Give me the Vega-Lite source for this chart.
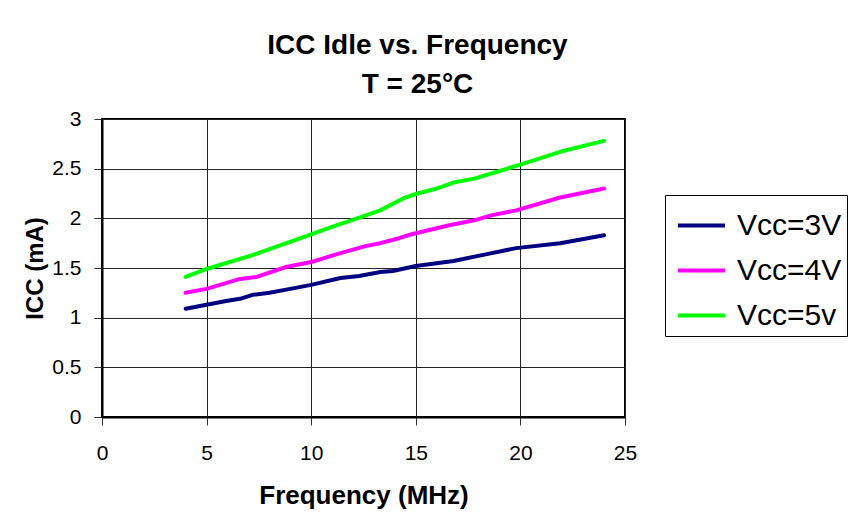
{
  "$schema": "https://vega.github.io/schema/vega-lite/v6.json",
  "width": 523,
  "height": 298,
  "autosize": {"type": "none"},
  "padding": {"left": 102, "top": 119, "right": 231, "bottom": 106},
  "background": "white",
  "title": {
    "text": ["ICC Idle vs. Frequency", "T = 25°C"],
    "font": "Liberation Sans",
    "fontSize": 28,
    "fontWeight": "bold",
    "color": "black",
    "anchor": "middle",
    "frame": "group",
    "dx": 54,
    "lineHeight": 39,
    "offset": 9
  },
  "data": {
    "values": [
      {"f": 4, "icc": 1.09, "s": "Vcc=3V"},
      {"f": 5, "icc": 1.13, "s": "Vcc=3V"},
      {"f": 6, "icc": 1.17, "s": "Vcc=3V"},
      {"f": 6.6, "icc": 1.19, "s": "Vcc=3V"},
      {"f": 7.2, "icc": 1.23, "s": "Vcc=3V"},
      {"f": 8, "icc": 1.25, "s": "Vcc=3V"},
      {"f": 9, "icc": 1.29, "s": "Vcc=3V"},
      {"f": 10, "icc": 1.33, "s": "Vcc=3V"},
      {"f": 11.4, "icc": 1.4, "s": "Vcc=3V"},
      {"f": 12.3, "icc": 1.42, "s": "Vcc=3V"},
      {"f": 13.3, "icc": 1.46, "s": "Vcc=3V"},
      {"f": 13.9, "icc": 1.47, "s": "Vcc=3V"},
      {"f": 15, "icc": 1.52, "s": "Vcc=3V"},
      {"f": 16.8, "icc": 1.57, "s": "Vcc=3V"},
      {"f": 18.4, "icc": 1.64, "s": "Vcc=3V"},
      {"f": 19.8, "icc": 1.7, "s": "Vcc=3V"},
      {"f": 21.9, "icc": 1.75, "s": "Vcc=3V"},
      {"f": 24, "icc": 1.83, "s": "Vcc=3V"},
      {"f": 4, "icc": 1.25, "s": "Vcc=4V"},
      {"f": 5, "icc": 1.29, "s": "Vcc=4V"},
      {"f": 6.6, "icc": 1.39, "s": "Vcc=4V"},
      {"f": 7.4, "icc": 1.41, "s": "Vcc=4V"},
      {"f": 8.8, "icc": 1.51, "s": "Vcc=4V"},
      {"f": 10, "icc": 1.56, "s": "Vcc=4V"},
      {"f": 11.4, "icc": 1.65, "s": "Vcc=4V"},
      {"f": 12.6, "icc": 1.72, "s": "Vcc=4V"},
      {"f": 13.3, "icc": 1.75, "s": "Vcc=4V"},
      {"f": 14.2, "icc": 1.8, "s": "Vcc=4V"},
      {"f": 14.8, "icc": 1.84, "s": "Vcc=4V"},
      {"f": 15.2, "icc": 1.86, "s": "Vcc=4V"},
      {"f": 16.6, "icc": 1.93, "s": "Vcc=4V"},
      {"f": 17.8, "icc": 1.98, "s": "Vcc=4V"},
      {"f": 18.6, "icc": 2.03, "s": "Vcc=4V"},
      {"f": 19.8, "icc": 2.08, "s": "Vcc=4V"},
      {"f": 21.9, "icc": 2.21, "s": "Vcc=4V"},
      {"f": 24, "icc": 2.3, "s": "Vcc=4V"},
      {"f": 4, "icc": 1.41, "s": "Vcc=5v"},
      {"f": 5, "icc": 1.49, "s": "Vcc=5v"},
      {"f": 7.2, "icc": 1.63, "s": "Vcc=5v"},
      {"f": 9.9, "icc": 1.83, "s": "Vcc=5v"},
      {"f": 11.2, "icc": 1.93, "s": "Vcc=5v"},
      {"f": 12.2, "icc": 2.0, "s": "Vcc=5v"},
      {"f": 13.3, "icc": 2.08, "s": "Vcc=5v"},
      {"f": 14.4, "icc": 2.2, "s": "Vcc=5v"},
      {"f": 15, "icc": 2.245, "s": "Vcc=5v"},
      {"f": 16, "icc": 2.3, "s": "Vcc=5v"},
      {"f": 16.8, "icc": 2.36, "s": "Vcc=5v"},
      {"f": 17.8, "icc": 2.4, "s": "Vcc=5v"},
      {"f": 20, "icc": 2.54, "s": "Vcc=5v"},
      {"f": 21.9, "icc": 2.67, "s": "Vcc=5v"},
      {"f": 24, "icc": 2.78, "s": "Vcc=5v"}
    ]
  },
  "mark": {"type": "line", "strokeWidth": 4, "strokeCap": "round", "strokeJoin": "round"},
  "encoding": {
    "x": {
      "field": "f",
      "type": "quantitative",
      "scale": {"domain": [0, 25], "nice": false, "zero": false},
      "axis": {
        "title": "Frequency (MHz)",
        "values": [0, 5, 10, 15, 20, 25],
        "labelFlush": false,
        "labelPadding": 17,
        "titlePadding": 19,
        "titleFontSize": 26
      }
    },
    "y": {
      "field": "icc",
      "type": "quantitative",
      "scale": {"domain": [0, 3], "nice": false},
      "axis": {
        "title": "ICC (mA)",
        "values": [0, 0.5, 1, 1.5, 2, 2.5, 3],
        "format": ".2~f",
        "labelFlush": false,
        "labelPadding": 13,
        "titlePadding": 4
      }
    },
    "color": {
      "field": "s",
      "type": "nominal",
      "scale": {
        "domain": ["Vcc=3V", "Vcc=4V", "Vcc=5v"],
        "range": ["#000080", "#FF00FF", "#00FF00"]
      },
      "legend": {
        "title": null,
        "orient": "none",
        "legendX": 563,
        "legendY": 76,
        "strokeColor": "black",
        "fillColor": "white",
        "padding": 5,
        "symbolOffset": 6,
        "symbolType": "stroke",
        "symbolSize": 2209,
        "symbolStrokeWidth": 4,
        "labelFontSize": 30,
        "labelFont": "Liberation Sans",
        "labelColor": "black",
        "labelOffset": 10,
        "rowPadding": 4
      }
    }
  },
  "config": {
    "view": {"stroke": "black", "strokeWidth": 2},
    "axis": {
      "domainColor": "black",
      "domainWidth": 2,
      "grid": true,
      "gridColor": "#222222",
      "gridWidth": 1,
      "gridOpacity": 1,
      "tickColor": "#333333",
      "tickSize": 8,
      "tickWidth": 1,
      "labelFont": "Liberation Sans",
      "labelFontSize": 21,
      "labelColor": "black",
      "titleFont": "Liberation Sans",
      "titleFontSize": 24,
      "titleFontWeight": "bold",
      "titleColor": "black"
    }
  }
}
